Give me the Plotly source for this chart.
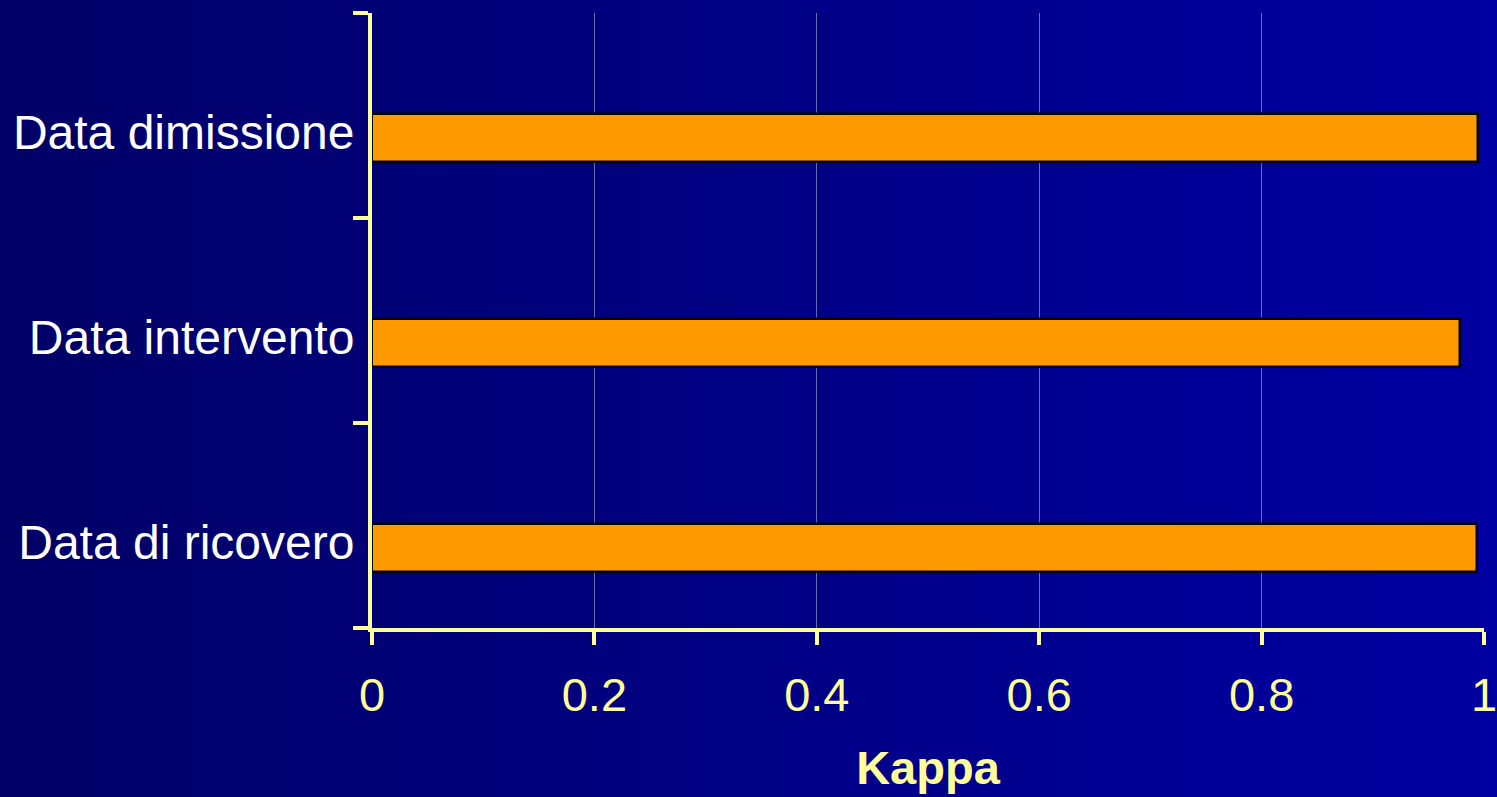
import plotly.graph_objects as go

categories = ["Data di ricovero", "Data intervento", "Data dimissione"]
kappa = [0.994, 0.978, 0.995]
x_ticks = [0, 0.2, 0.4, 0.6, 0.8, 1]
x_tick_labels = ["0", "0.2", "0.4", "0.6", "0.8", "1"]

W, H = 1497, 797
L, R, T, B = 372, 13, 13, 169
pw, ph = W - L - R, H - T - B

fig = go.Figure()
fig.add_trace(go.Bar(
    y=categories, x=kappa, orientation="h",
    marker=dict(color="#FF9900", line=dict(color="#000000", width=2.5)),
    width=0.232, offset=-0.225,
    hoverinfo="x+y",
))

# horizontal background gradient
shapes = []
n = 150
c0 = (0x00, 0x00, 0x66)
c1 = (0x00, 0x00, 0xA2)
for i in range(n):
    t = i / (n - 1)
    col = "rgb(%d,%d,%d)" % tuple(round(a + (b - a) * t) for a, b in zip(c0, c1))
    px0 = W * i / n
    px1 = W * (i + 1) / n + 1
    shapes.append(dict(
        type="rect", xref="paper", yref="paper", layer="below",
        x0=(px0 - L) / pw, x1=(px1 - L) / pw,
        y0=-(B + 5) / ph, y1=1 + (T + 5) / ph,
        fillcolor=col, line=dict(width=0),
    ))

yellow = "#FFFF99"
fig.update_layout(
    width=W, height=H,
    margin=dict(l=L, r=R, t=T, b=B, pad=0, autoexpand=False),
    paper_bgcolor="#000066",
    plot_bgcolor="rgba(0,0,0,0)",
    shapes=shapes,
    showlegend=False,
    font=dict(family="Liberation Sans, Arial, sans-serif"),
    bargap=0,
)
fig.update_xaxes(
    range=[0, 1], tickvals=x_ticks, ticktext=x_tick_labels,
    showgrid=True, gridcolor="rgba(190,190,210,0.55)", gridwidth=1,
    showline=True, linecolor=yellow, linewidth=4,
    ticks="outside", ticklen=13, tickwidth=4, tickcolor=yellow,
    tickfont=dict(size=47, color=yellow),
    ticklabelstandoff=10, ticklabeloverflow="allow",
    title=dict(text="<b>Kappa</b>", font=dict(size=47, color=yellow), standoff=32),
    zeroline=False, fixedrange=True, automargin=False,
)
fig.update_yaxes(
    type="category", categoryorder="array", categoryarray=categories,
    range=[-0.5, 2.5], tickson="boundaries",
    showgrid=False,
    showline=True, linecolor=yellow, linewidth=4,
    ticks="outside", ticklen=15, tickwidth=4, tickcolor=yellow,
    tickfont=dict(size=48, color="#FFFFFF"),
    ticklabelshift=17, ticklabelstandoff=4,
    zeroline=False, fixedrange=True, automargin=False,
)

fig.write_html("out.html")
